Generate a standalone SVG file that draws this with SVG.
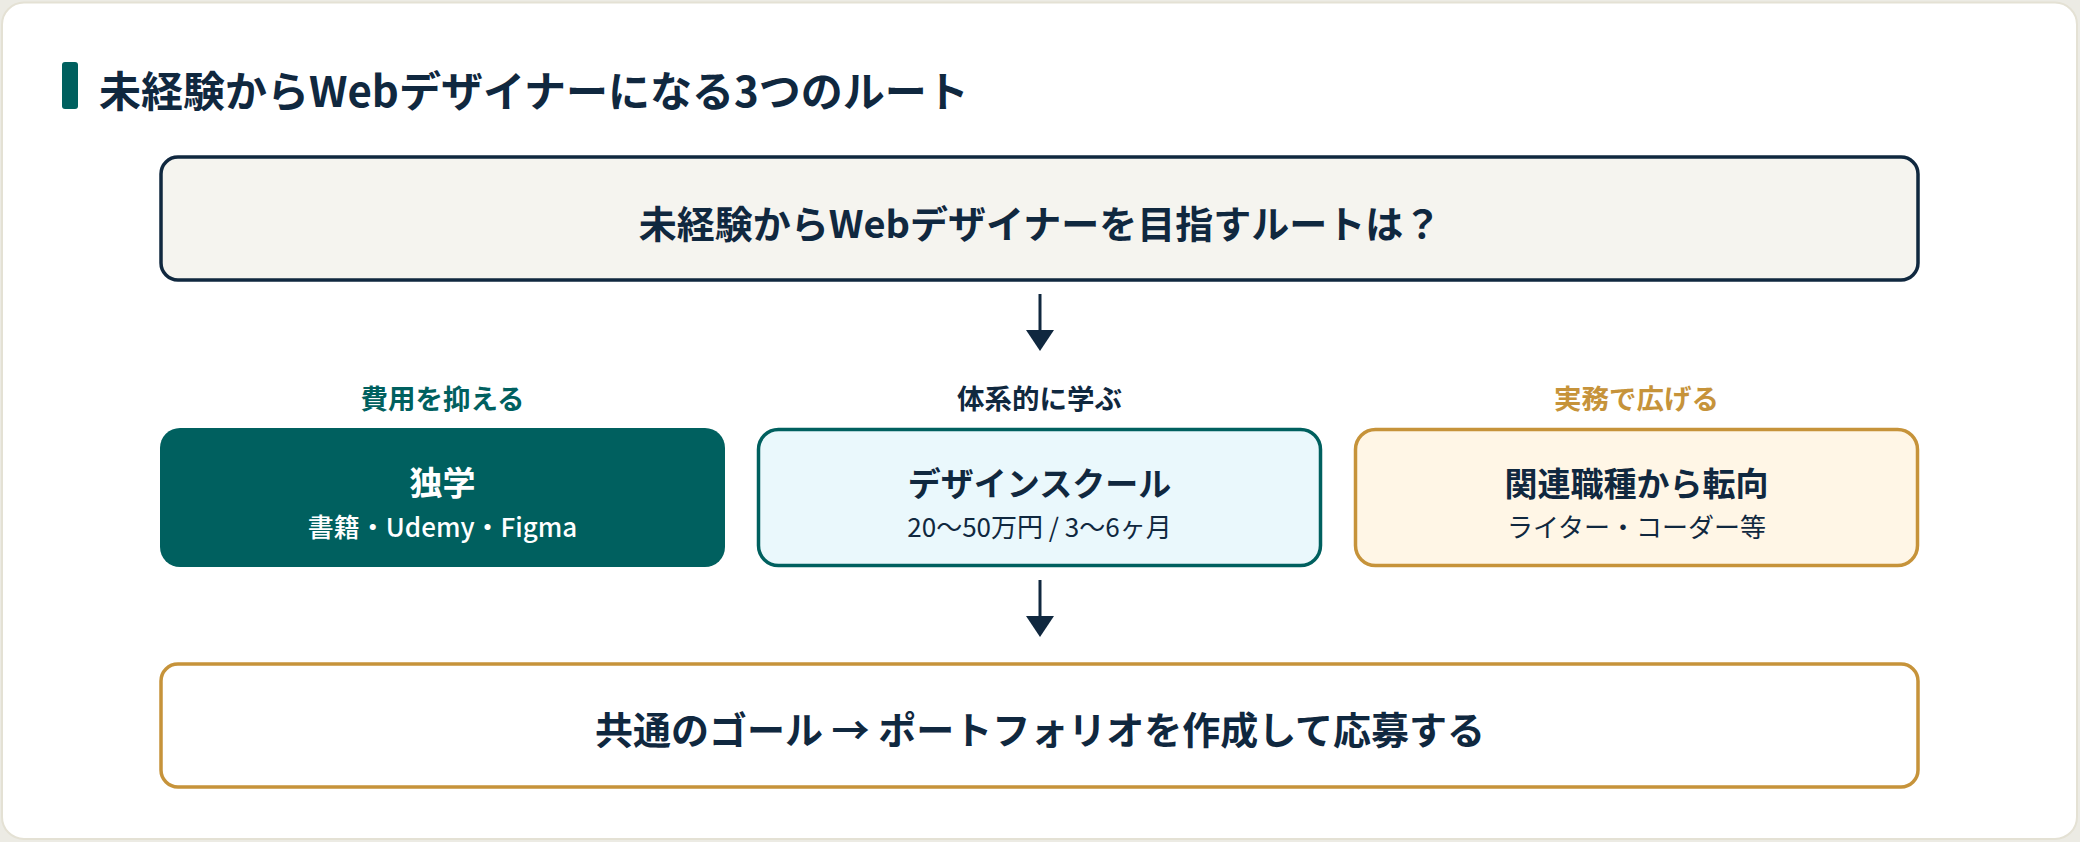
<svg xmlns="http://www.w3.org/2000/svg" width="2080" height="842" viewBox="0 0 2080 842">
<defs>
<style>
text{font-family:"Noto Sans CJK JP","Noto Sans",sans-serif;text-anchor:middle;dominant-baseline:central}
.b{font-weight:700}
.navy{fill:#10283f}
.sub{font-size:26px;font-weight:500}
.lab{font-size:27.5px;font-weight:700}
.main{font-size:33px;font-weight:700}
.conn{stroke:#10283f;stroke-width:3;fill:none}
.head{fill:#10283f}
</style>
</defs>
<rect x="0" y="0" width="2080" height="842" fill="#ecebe4"/>
<rect x="2" y="2.5" width="2075" height="836.5" rx="22" fill="#ffffff" stroke="#e4e1d4" stroke-width="2"/>
<g id="title">
<rect x="62" y="62" width="16" height="47" rx="3" fill="#00605f"/>
<text x="99" y="88" class="b navy" style="font-size:42px;text-anchor:start">未経験からWebデザイナーになる3つのルート</text>
</g>
<g id="question">
<rect x="161" y="157" width="1757" height="123" rx="17" fill="#f5f4ef" stroke="#10283f" stroke-width="3.5"/>
<text x="1040" y="221" class="b navy" style="font-size:38px">未経験からWebデザイナーを目指すルートは？</text>
</g>
<g id="connectors">
<path class="conn" d="M1040,294 V331"/>
<path class="head" d="M1026,330 L1054,330 L1040,351 Z"/>
<path class="conn" d="M1040,580 V617"/>
<path class="head" d="M1026,616 L1054,616 L1040,637 Z"/>
</g>
<g id="self-study">
<text x="442.5" y="397" class="lab" fill="#00605f">費用を抑える</text>
<rect x="160" y="428" width="565" height="139" rx="20" fill="#00605f"/>
<text x="442.5" y="481" class="main" fill="#ffffff">独学</text>
<text x="442.5" y="525" class="sub" fill="#ffffff">書籍・Udemy・Figma</text>
</g>
<g id="school">
<text x="1039.5" y="397" class="lab navy">体系的に学ぶ</text>
<rect x="758.5" y="429.5" width="562" height="136" rx="20" fill="#eaf8fc" stroke="#00605f" stroke-width="3.5"/>
<text x="1039.5" y="482" class="main navy">デザインスクール</text>
<text x="1039.5" y="525" class="sub navy" style="font-weight:400">20〜50万円 / 3〜6ヶ月</text>
</g>
<g id="career">
<text x="1636.5" y="397" class="lab" fill="#c6933a">実務で広げる</text>
<rect x="1355.5" y="429.5" width="562" height="136" rx="20" fill="#fff6e6" stroke="#c6933a" stroke-width="3.5"/>
<text x="1636.5" y="482" class="main navy">関連職種から転向</text>
<text x="1636.5" y="525" class="sub navy" style="font-weight:400">ライター・コーダー等</text>
</g>
<g id="goal">
<rect x="161" y="664" width="1757" height="123" rx="17" fill="#ffffff" stroke="#c6933a" stroke-width="3.5"/>
<text x="1040" y="727" class="b navy" style="font-size:38px">共通のゴール → ポートフォリオを作成して応募する</text>
</g>
</svg>
